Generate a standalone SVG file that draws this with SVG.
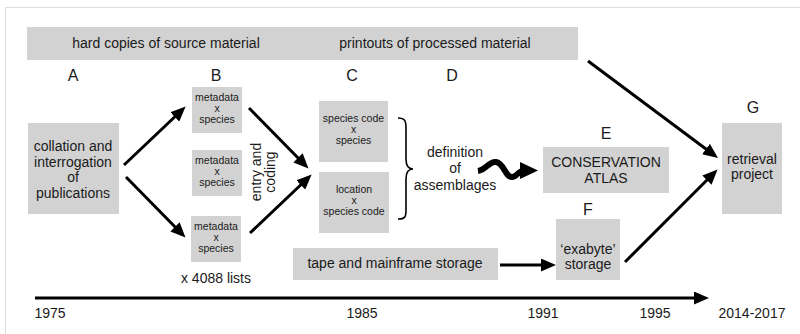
<svg xmlns="http://www.w3.org/2000/svg" width="800" height="334" viewBox="0 0 800 334">
<defs>
<style>
text{font-family:"Liberation Sans",Arial,sans-serif;fill:#1a1a1a;text-anchor:middle}
.b{font-size:14px}
.s{font-size:10.5px}
.L{font-size:16px}
.box{fill:#d2d2d2}
.arr{stroke:#000;stroke-width:3;fill:none;marker-end:url(#ah)}
</style>
<marker id="ah" markerUnits="userSpaceOnUse" markerWidth="15" markerHeight="13" refX="10" refY="6.5" orient="auto">
<path d="M0,0 L15,6.5 L0,13 z" fill="#000"/>
</marker>
</defs>
<rect x="0" y="0" width="800" height="334" fill="#fff"/>
<rect x="5.5" y="7.5" width="900" height="400" fill="none" stroke="#dedede" stroke-width="1"/>

<g id="banner">
<rect class="box" x="27" y="27" width="551" height="33"/>
<text class="b" x="166" y="48">hard copies of source material</text>
<text class="b" x="435" y="48">printouts of processed material</text>
</g>

<g id="labels">
<text class="L" x="73" y="81">A</text>
<text class="L" x="216" y="81">B</text>
<text class="L" x="352" y="81">C</text>
<text class="L" x="452" y="81">D</text>
<text class="L" x="606" y="139">E</text>
<text class="L" x="588" y="215">F</text>
<text class="L" x="753" y="113">G</text>
</g>

<g id="nodeA">
<rect class="box" x="28" y="123" width="91" height="91"/>
<text class="b" x="73" y="151">collation and</text>
<text class="b" x="73" y="167">interrogation</text>
<text class="b" x="73" y="182">of</text>
<text class="b" x="73" y="198">publications</text>
</g>

<g id="nodeB1">
<rect class="box" x="192" y="87" width="50" height="46"/>
<text class="s" x="217" y="101">metadata</text>
<text class="s" x="217" y="112">x</text>
<text class="s" x="217" y="123">species</text>
</g>
<g id="nodeB2">
<rect class="box" x="192" y="150" width="50" height="46"/>
<text class="s" x="217" y="164">metadata</text>
<text class="s" x="217" y="175">x</text>
<text class="s" x="217" y="186">species</text>
</g>
<g id="nodeB3">
<rect class="box" x="191" y="216" width="50" height="46"/>
<text class="s" x="216" y="230">metadata</text>
<text class="s" x="216" y="241">x</text>
<text class="s" x="216" y="252">species</text>
</g>
<text class="b" x="216" y="283">x 4088 lists</text>
<text class="b" transform="translate(261,172) rotate(-90)">entry and</text>
<text class="b" transform="translate(275,172) rotate(-90)">coding</text>

<g id="nodeC1">
<rect class="box" x="319" y="101" width="69" height="61"/>
<text class="s" x="353.5" y="122">species code</text>
<text class="s" x="353.5" y="133">x</text>
<text class="s" x="353.5" y="144">species</text>
</g>
<g id="nodeC2">
<rect class="box" x="319" y="172" width="70" height="61"/>
<text class="s" x="354" y="193">location</text>
<text class="s" x="354" y="204">x</text>
<text class="s" x="354" y="215">species code</text>
</g>

<g id="nodeD">
<path d="M398,118 C405,118 406,121 406,128 L406,159 C406,166 408,169 413,169 C408,169 406,172 406,179 L406,210 C406,217 405,219 398,219" fill="none" stroke="#000" stroke-width="1.6"/>
<text class="b" x="455" y="157">definition</text>
<text class="b" x="455" y="173">of</text>
<text class="b" x="455" y="190">assemblages</text>
</g>

<g id="nodeE">
<rect class="box" x="543" y="147" width="126" height="46"/>
<text class="b" x="606" y="167">CONSERVATION</text>
<text class="b" x="606" y="183">ATLAS</text>
</g>

<g id="nodeTape">
<rect class="box" x="293" y="248" width="205" height="32"/>
<text class="b" x="395" y="268">tape and mainframe storage</text>
</g>

<g id="nodeF">
<rect class="box" x="556" y="219" width="64" height="61"/>
<text class="b" x="588" y="254">‘exabyte’</text>
<text class="b" x="588" y="269">storage</text>
</g>

<g id="nodeG">
<rect class="box" x="722" y="123" width="60" height="91"/>
<text class="b" x="752" y="164">retrieval</text>
<text class="b" x="752" y="179">project</text>
</g>

<g id="connectors">
<line class="arr" x1="124" y1="165" x2="182" y2="110"/>
<line class="arr" x1="126" y1="177" x2="182" y2="234"/>
<line class="arr" x1="249" y1="108" x2="305" y2="165"/>
<line class="arr" x1="250" y1="233" x2="308" y2="178"/>
<line class="arr" x1="588" y1="61" x2="714" y2="155"/>
<line class="arr" x1="500" y1="265" x2="551" y2="265"/>
<line class="arr" x1="625" y1="262" x2="714" y2="173"/>
<line class="arr" x1="35" y1="298" x2="704" y2="298"/>
<path d="M478,171 C486,170 489,161 496,162 C504,163 505,177 512,177 C517,177 518,171 523,171" fill="none" stroke="#000" stroke-width="6"/>
<path d="M520,162 L538,170.5 L520,179 z" fill="#000"/>
</g>

<g id="years">
<text class="b" x="50" y="318">1975</text>
<text class="b" x="362" y="318">1985</text>
<text class="b" x="543" y="318">1991</text>
<text class="b" x="655" y="318">1995</text>
<text class="b" x="752" y="318">2014-2017</text>
</g>
</svg>
